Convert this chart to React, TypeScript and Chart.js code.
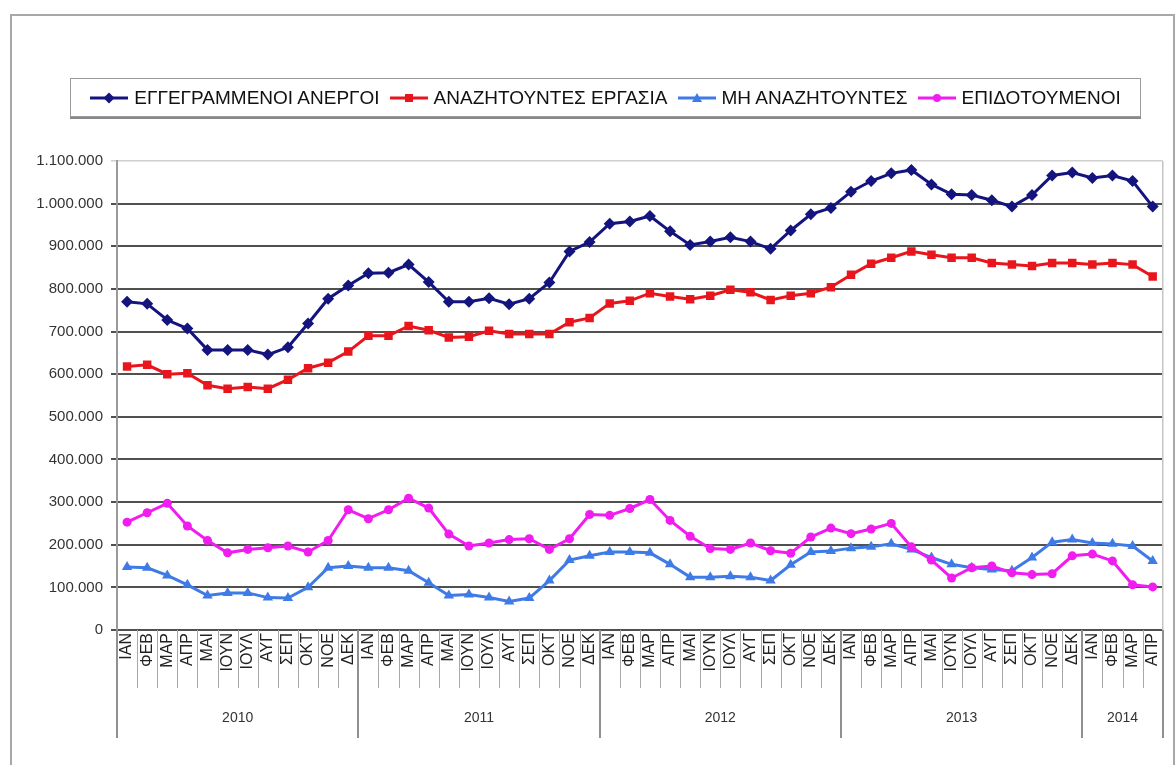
import React, { useEffect, useRef } from 'react';
import { Chart, registerables } from 'chart.js';

Chart.register(...registerables);

const monthNames = ['ΙΑΝ', 'ΦΕΒ', 'ΜΑΡ', 'ΑΠΡ', 'ΜΑΙ', 'ΙΟΥΝ', 'ΙΟΥΛ', 'ΑΥΓ', 'ΣΕΠ', 'ΟΚΤ', 'ΝΟΕ', 'ΔΕΚ'];
const years = ['2010', '2011', '2012', '2013', '2014'];
const monthsPerYear = [12, 12, 12, 12, 4];

const seriesNames = ['ΕΓΓΕΓΡΑΜΜΕΝΟΙ ΑΝΕΡΓΟΙ', 'ΑΝΑΖΗΤΟΥΝΤΕΣ ΕΡΓΑΣΙΑ', 'ΜΗ ΑΝΑΖΗΤΟΥΝΤΕΣ', 'ΕΠΙΔΟΤΟΥΜΕΝΟΙ'];
const seriesColors = ['#14147f', '#e8161c', '#3f7be6', '#f01cf0'];

const registered = [
  770000, 765000, 727000, 707000, 657000, 657000, 657000, 646000, 663000, 719000, 777000, 808000,
  837000, 838000, 857000, 816000, 770000, 770000, 778000, 764000, 777000, 815000, 888000, 910000,
  953000, 958000, 971000, 935000, 903000, 911000, 921000, 911000, 894000, 937000, 975000, 990000,
  1028000, 1053000, 1071000, 1079000, 1045000, 1022000, 1020000, 1008000, 993000, 1020000, 1066000, 1073000,
  1060000, 1066000, 1053000, 993000,
];
const seeking = [
  618000, 622000, 600000, 602000, 574000, 566000, 570000, 566000, 587000, 614000, 627000, 653000,
  690000, 690000, 713000, 703000, 686000, 688000, 702000, 694000, 694000, 694000, 722000, 732000,
  766000, 772000, 790000, 782000, 776000, 784000, 798000, 792000, 774000, 784000, 790000, 804000,
  833000, 859000, 873000, 888000, 880000, 873000, 873000, 861000, 857000, 854000, 861000, 861000,
  857000, 861000, 857000, 829000,
];
const notSeeking = [
  148000, 146000, 128000, 106000, 81000, 87000, 87000, 76000, 75000, 100000, 146000, 150000,
  146000, 146000, 139000, 111000, 81000, 83000, 76000, 67000, 75000, 116000, 164000, 174000,
  183000, 183000, 181000, 154000, 124000, 124000, 126000, 124000, 116000, 153000, 183000, 185000,
  192000, 195000, 202000, 189000, 170000, 154000, 146000, 142000, 139000, 170000, 206000, 212000,
  204000, 202000, 197000, 162000,
];
const subsidized = [
  253000, 275000, 297000, 244000, 210000, 181000, 189000, 193000, 197000, 183000, 210000, 282000,
  261000, 282000, 309000, 286000, 225000, 197000, 204000, 212000, 214000, 189000, 214000, 271000,
  269000, 285000, 306000, 257000, 220000, 191000, 189000, 204000, 186000, 180000, 218000, 239000,
  226000, 237000, 250000, 195000, 164000, 122000, 146000, 150000, 134000, 130000, 132000, 174000,
  178000, 162000, 106000, 101000,
];

const yMin = 0;
const yMax = 1100000;
const yStep = 100000;

const FONT = '"Liberation Sans", Arial, sans-serif';

const categories: string[] = [];
monthsPerYear.forEach((n) => {
  for (let i = 0; i < n; i++) categories.push(monthNames[i]);
});

const formatThousands = (v: number) => String(v).replace(/\B(?=(\d{3})+(?!\d))/g, '.');

const yearAxisPlugin = {
  id: 'yearAxis',
  beforeDatasetsDraw(chart: any) {
    const { ctx, chartArea } = chart;
    ctx.save();
    ctx.strokeStyle = '#c4c4c4';
    ctx.lineWidth = 1.5;
    ctx.beginPath();
    ctx.moveTo(chartArea.right, chartArea.top);
    ctx.lineTo(chartArea.right, chartArea.bottom);
    ctx.stroke();
    ctx.restore();
  },
  afterDraw(chart: any) {
    const { ctx, chartArea } = chart;
    const x = chart.scales.x;
    const n = categories.length;
    const boundary = (i: number) => {
      if (i <= 0) return x.left;
      if (i >= n) return x.right;
      return (x.getPixelForValue(i - 1) + x.getPixelForValue(i)) / 2;
    };
    const bottom = chartArea.bottom;
    ctx.save();
    ctx.strokeStyle = '#a8a8a8';
    ctx.lineWidth = 1;
    for (let i = 0; i <= n; i++) {
      const px = Math.round(boundary(i)) + 0.5;
      ctx.beginPath();
      ctx.moveTo(px, bottom);
      ctx.lineTo(px, bottom + 58);
      ctx.stroke();
    }
    ctx.strokeStyle = '#909090';
    ctx.lineWidth = 2;
    ctx.fillStyle = '#333';
    ctx.font = `14px ${FONT}`;
    ctx.textAlign = 'center';
    ctx.textBaseline = 'middle';
    const bounds = [0];
    monthsPerYear.forEach((m) => bounds.push(bounds[bounds.length - 1] + m));
    bounds.forEach((b) => {
      const px = Math.round(boundary(b));
      ctx.beginPath();
      ctx.moveTo(px, bottom);
      ctx.lineTo(px, bottom + 108);
      ctx.stroke();
    });
    years.forEach((yr, i) => {
      const a = boundary(bounds[i]);
      const b = boundary(bounds[i + 1]);
      ctx.fillText(yr, (a + b) / 2, bottom + 88);
    });
    ctx.restore();
  },
};

function LegendMarker({ idx }: { idx: number }) {
  const c = seriesColors[idx];
  let shape: any;
  if (idx === 0) shape = <polygon points="19,1.5 24.5,7 19,12.5 13.5,7" fill={c} />;
  else if (idx === 1) shape = <rect x="15" y="3" width="8" height="8" fill={c} />;
  else if (idx === 2) shape = <polygon points="19,2 24,11 14,11" fill={c} />;
  else shape = <circle cx="19" cy="7" r="4" fill={c} />;
  return (
    <svg width="38" height="14" style={{ display: 'block' }}>
      <line x1="0" y1="7" x2="38" y2="7" stroke={c} strokeWidth="3" />
      {shape}
    </svg>
  );
}

export default function App() {
  const canvasRef = useRef<HTMLCanvasElement | null>(null);

  useEffect(() => {
    if (!canvasRef.current) return;
    const seriesData = [registered, seeking, notSeeking, subsidized];
    const pointStyles = ['rectRot', 'rect', 'triangle', 'circle'];
    const radii = [6, 6, 6, 4.5];
    const chart = new Chart(canvasRef.current, {
      type: 'line',
      data: {
        labels: categories,
        datasets: seriesData.map((d, i) => ({
          label: seriesNames[i],
          data: d,
          borderColor: seriesColors[i],
          backgroundColor: seriesColors[i],
          borderWidth: 3,
          pointStyle: pointStyles[i] as any,
          pointRadius: radii[i],
          pointBorderWidth: 0,
          pointBackgroundColor: seriesColors[i],
          tension: 0,
          order: 3 - i,
        })),
      },
      options: {
        animation: false,
        responsive: false,
        devicePixelRatio: 1,
        layout: { padding: { top: 161, left: 10, right: 12, bottom: 77 } },
        plugins: {
          legend: { display: false },
          tooltip: { enabled: false },
        },
        scales: {
          x: {
            offset: true,
            grid: { display: false, drawTicks: false },
            border: { display: false },
            ticks: {
              autoSkip: false,
              minRotation: 90,
              maxRotation: 90,
              padding: 3,
              color: '#222',
              font: { family: FONT, size: 16 },
            },
            afterFit: (scale: any) => {
              scale.height = 58;
            },
          },
          y: {
            min: yMin,
            max: yMax,
            border: { display: true, color: '#9a9a9a', width: 2 },
            grid: {
              color: (c: any) => (c.tick && c.tick.value === yMax ? '#cfcfcf' : '#505050'),
              lineWidth: (c: any) => (c.tick && c.tick.value === yMax ? 1.5 : 2),
              tickLength: 6,
              drawTicks: true,
            },
            ticks: {
              stepSize: yStep,
              padding: 8,
              color: '#333',
              font: { family: FONT, size: 15 },
              callback: (v: any) => formatThousands(Number(v)),
            },
            afterFit: (scale: any) => {
              scale.width = 107;
            },
          },
        },
      },
      plugins: [yearAxisPlugin],
    });
    return () => chart.destroy();
  }, []);

  return (
    <div style={{ position: 'fixed', left: 0, top: 0, width: 1175, height: 765, background: '#fff', overflow: 'hidden' }}>
      <div
        style={{
          position: 'absolute',
          left: 10,
          top: 14,
          width: 1161,
          height: 760,
          border: '2px solid #a8a8a8',
        }}
      />
      <canvas
        ref={canvasRef}
        width={1175}
        height={765}
        style={{ position: 'absolute', left: 0, top: 0, width: 1175, height: 765 }}
      />
      <div
        style={{
          position: 'absolute',
          left: 70,
          top: 78,
          width: 1069,
          height: 37,
          border: '1px solid #9a9a9a',
          boxShadow: '0 2px 0 #888',
          background: '#fff',
          display: 'flex',
          alignItems: 'center',
          justifyContent: 'center',
          fontFamily: FONT,
          fontSize: 19,
          color: '#111',
          whiteSpace: 'nowrap',
        }}
      >
        {seriesNames.map((name, i) => (
          <div key={name} style={{ display: 'flex', alignItems: 'center', marginRight: i < seriesNames.length - 1 ? 10 : 0 }}>
            <LegendMarker idx={i} />
            <span style={{ marginLeft: 6 }}>{name}</span>
          </div>
        ))}
      </div>
    </div>
  );
}
